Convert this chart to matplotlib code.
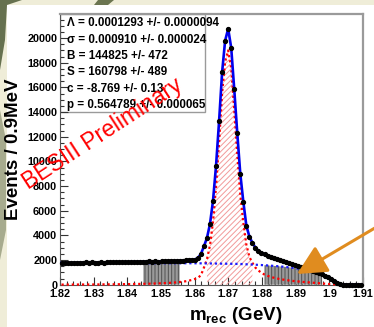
import numpy as np
import matplotlib
matplotlib.use("Agg")
import matplotlib.pyplot as plt
from matplotlib.patches import Rectangle, Polygon
from matplotlib.ticker import MultipleLocator, FuncFormatter

plt.rcParams['font.family'] = ['Liberation Sans', 'DejaVu Sans']
plt.rcParams['mathtext.fontset'] = 'custom'
plt.rcParams['mathtext.bf'] = 'Liberation Sans:bold'
plt.rcParams['mathtext.rm'] = 'Liberation Sans'
plt.rcParams['hatch.linewidth'] = 0.7

# 0.9 MeV bins from 1.82 to 1.91 GeV
bin_lo, bin_w, n_bins = 1.82, 0.0009, 100

# events per bin
data_counts = [
    1745, 1790, 1752, 1778, 1760, 1795, 1770, 1768, 1805, 1780,
    1810, 1788, 1795, 1830, 1800, 1822, 1812, 1805, 1840, 1818,
    1850, 1828, 1855, 1838, 1870, 1845, 1862, 1880, 1850, 1885,
    1865, 1895, 1870, 1905, 1888, 1915, 1900, 1935, 1920, 1955,
    1940, 1985, 1975, 2035, 2040, 2180, 2490, 3110, 3790, 4920,
    6810, 9650, 13240, 17220, 19790, 20700, 19220, 15860, 12300, 9000,
    6730, 4790, 3900, 3420, 3010, 2760, 2560, 2470, 2330, 2250,
    2160, 2060, 2000, 1900, 1840, 1740, 1690, 1580, 1520, 1420,
    1360, 1260, 1200, 1090, 1030, 920, 850, 720, 630, 470,
    340, 170, 70, 10, 0, 0, 0, 0, 0, 0]

# total fit
fit_total = [
    1760, 1764, 1767, 1771, 1774, 1778, 1782, 1785, 1789, 1793,
    1796, 1800, 1804, 1807, 1811, 1814, 1818, 1822, 1825, 1829,
    1833, 1836, 1840, 1844, 1848, 1852, 1856, 1860, 1864, 1869,
    1874, 1879, 1884, 1890, 1896, 1903, 1910, 1918, 1927, 1937,
    1950, 1966, 1985, 2010, 2050, 2160, 2490, 3110, 3790, 4920,
    6810, 9650, 13240, 17220, 19790, 20750, 19220, 15860, 12300, 9000,
    6730, 4790, 3900, 3400, 3000, 2750, 2580, 2450, 2340, 2240,
    2150, 2070, 1990, 1910, 1830, 1750, 1670, 1590, 1510, 1430,
    1350, 1270, 1190, 1105, 1020, 935, 840, 735, 615, 480,
    330, 180, 60, 5, 0, 0, 0, 0, 0, 0]

# signal component
fit_signal = [
    10, 10, 10, 12, 12, 14, 14, 16, 16, 18,
    20, 20, 22, 24, 26, 28, 30, 32, 35, 38,
    41, 44, 48, 52, 56, 60, 65, 70, 76, 82,
    90, 98, 106, 116, 127, 140, 155, 172, 192, 215,
    245, 280, 325, 385, 460, 560, 760, 1380, 2060, 3200,
    5100, 7940, 11540, 15520, 18090, 19000, 17540, 14180, 10630, 7330,
    5070, 3250, 2260, 1770, 1380, 1150, 960, 820, 720, 640,
    570, 510, 460, 420, 380, 345, 315, 290, 265, 240,
    220, 200, 180, 160, 140, 120, 100, 80, 60, 45,
    30, 15, 5, 0, 0, 0, 0, 0, 0, 0]

# background component
fit_bkg = [
    1750, 1750, 1750, 1750, 1750, 1750, 1750, 1750, 1750, 1750,
    1750, 1750, 1750, 1750, 1750, 1750, 1750, 1750, 1750, 1750,
    1748, 1748, 1747, 1747, 1746, 1746, 1745, 1745, 1745, 1744,
    1744, 1744, 1743, 1743, 1743, 1742, 1742, 1742, 1741, 1741,
    1740, 1740, 1739, 1738, 1737, 1735, 1733, 1730, 1727, 1723,
    1719, 1715, 1711, 1707, 1703, 1699, 1695, 1690, 1685, 1680,
    1665, 1655, 1645, 1633, 1620, 1606, 1592, 1577, 1561, 1544,
    1526, 1506, 1485, 1462, 1437, 1410, 1380, 1347, 1311, 1271,
    1226, 1176, 1120, 1056, 983, 900, 805, 697, 575, 440,
    295, 155, 50, 0, 0, 0, 0, 0, 0, 0]

signal_window = (1.8636, 1.8772)
sidebands = [(1.8443, 1.8556), (1.8805, 1.8985)]

stats_lines = [
    "\u039b = 0.0001293 +/- 0.0000094",
    "\u03c3 = 0.000910 +/- 0.000024",
    "B = 144825 +/- 472",
    "S = 160798 +/- 489",
    "c = -8.769 +/- 0.13",
    "p = 0.564789 +/- 0.000065",
]

x = bin_lo + bin_w * (np.arange(n_bins) + 0.5)
data_counts = np.array(data_counts, dtype=float)
fit_total = np.array(fit_total, dtype=float)
fit_signal = np.array(fit_signal, dtype=float)
fit_bkg = np.array(fit_bkg, dtype=float)

W, H = 374, 327
fig = plt.figure(figsize=(W / 100, H / 100), dpi=100, facecolor='#efedd8')

# slide background: white panel and a few green strokes
fig.add_artist(Rectangle((7 / W, 0), 1, (H - 5) / H, transform=fig.transFigure,
                         facecolor='white', edgecolor='none', zorder=0))
def px_poly(pts, color):
    fig.add_artist(Polygon([(a / W, 1 - b / H) for a, b in pts], closed=True,
                           transform=fig.transFigure, facecolor=color,
                           edgecolor='none', zorder=0))
px_poly([(0, 0), (22, 0), (7, 5), (5, 40), (0, 70)], '#66714f')
px_poly([(0, 110), (6, 140), (6, 230), (0, 260)], '#a7ab8e')
px_poly([(98, 0), (114, 0), (108, 5), (94, 5)], '#6b7550')

ax = fig.add_axes([60 / W, 1 - 284.7 / H, 303 / W, 270.7 / H])
ax.set_facecolor('white')

# stats box
ax.add_patch(Rectangle((0, 0.638), 0.4785, 0.362, transform=ax.transAxes,
                       facecolor='white', edgecolor='#9a9a9a', lw=1.0, zorder=1))
for k, line in enumerate(stats_lines):
    ax.text(0.022, 0.966 - k * 0.0607, line, transform=ax.transAxes,
            fontsize=8.4, fontweight='bold', va='center', ha='left', zorder=6)

# sidebands
for lo, hi in sidebands:
    m = (x >= lo) & (x <= hi)
    ax.fill_between(x[m], 0, fit_bkg[m], facecolor='#9a9a9a', edgecolor='#505050',
                    hatch='|||||', lw=0, zorder=2)

# signal window hatch
m = (x >= signal_window[0]) & (x <= signal_window[1])
ax.fill_between(x[m], 0, fit_signal[m], facecolor='none', edgecolor='#f29a9a',
                hatch='//////', lw=0, zorder=2)

ax.plot(x, fit_signal, color='red', lw=1.6, ls=(0, (1, 1.3)), zorder=3, clip_on=False)
ax.plot(x, fit_bkg, color='#1a1aff', lw=1.6, ls=(0, (1, 1.3)), zorder=3, clip_on=False)
ax.plot(x, fit_total, color='#0000ee', lw=1.9, zorder=4)
ax.errorbar(x, data_counts, yerr=np.sqrt(data_counts), fmt='o', ms=2.8,
            color='black', ecolor='black', elinewidth=0.8, capsize=0, zorder=5,
            clip_on=False)

ax.set_xlim(1.82, 1.91)
ax.set_ylim(0, 21950)
ax.xaxis.set_major_locator(MultipleLocator(0.01))
ax.xaxis.set_minor_locator(MultipleLocator(0.002))
ax.yaxis.set_major_locator(MultipleLocator(2000))
ax.yaxis.set_minor_locator(MultipleLocator(500))
ax.xaxis.set_major_formatter(FuncFormatter(lambda v, p: '%g' % round(v, 3)))
ax.yaxis.set_major_formatter(FuncFormatter(lambda v, p: '%d' % v))
ax.tick_params(which='both', direction='in', top=False, right=False,
               color='#333333', width=0.8)
ax.tick_params(which='major', length=6, labelsize=7.8, pad=2)
ax.tick_params(axis='x', which='major', pad=3)
ax.tick_params(which='minor', length=3)
for lab in ax.get_xticklabels() + ax.get_yticklabels():
    lab.set_fontweight('bold')
for s in ['top', 'right']:
    ax.spines[s].set_color('#9a9a9a')
    ax.spines[s].set_linewidth(1.6)
for s in ['left', 'bottom']:
    ax.spines[s].set_color('#555555')
    ax.spines[s].set_linewidth(0.8)

fig.text(14 / W, 1 - 149 / H, 'Events / 0.9MeV', rotation=90, fontsize=13.5,
         fontweight='bold', ha='center', va='center')
fig.text(236 / W, 1 - 316 / H, r'$\mathbf{m_{rec}}$ (GeV)', fontsize=13.5,
         fontweight='bold', ha='center', va='center')

fig.text(103 / W, 1 - 134 / H, 'BESIII Preliminary', rotation=33, fontsize=16.5,
         color='red', ha='center', va='center', rotation_mode='anchor', zorder=7)

ax.annotate('', xy=(297, H - 274), xycoords='figure pixels',
            xytext=(385, H - 222), textcoords='figure pixels',
            arrowprops=dict(arrowstyle='-|>,head_length=0.9,head_width=0.45',
                            color='#e08c1f', lw=2.2, mutation_scale=20,
                            shrinkA=0, shrinkB=0),
            annotation_clip=False, zorder=8)

fig.savefig('out.png', dpi=100, facecolor=fig.get_facecolor())
